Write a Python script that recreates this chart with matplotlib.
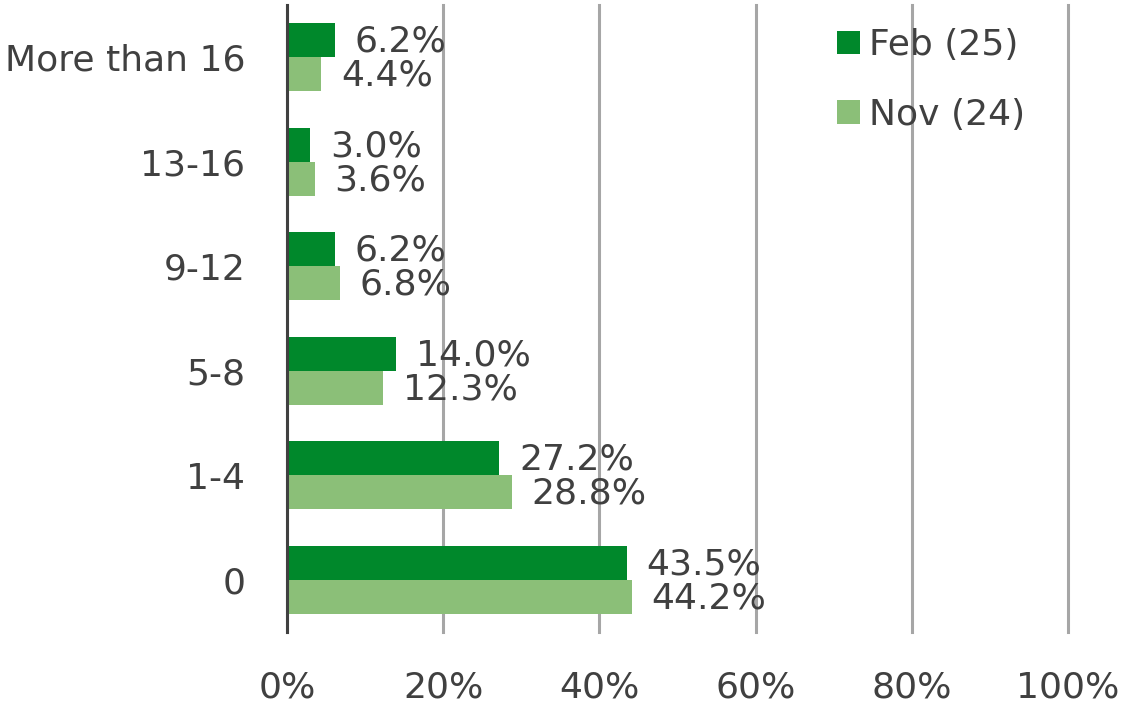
import matplotlib
matplotlib.use("Agg")
import matplotlib.pyplot as plt
import numpy as np

categories = ["0", "1-4", "5-8", "9-12", "13-16", "More than 16"]
feb_values = [43.5, 27.2, 14.0, 6.2, 3.0, 6.2]
nov_values = [44.2, 28.8, 12.3, 6.8, 3.6, 4.4]
series_names = ["Feb (25)", "Nov (24)"]
x_ticks = [0, 20, 40, 60, 80, 100]
x_tick_labels = ["0%", "20%", "40%", "60%", "80%", "100%"]

DARK = "#00882B"
LIGHT = "#8BBF78"
TXT = "#404040"
FS = 26

plt.rcParams['font.family'] = ['DejaVu Sans']

fig = plt.figure(figsize=(11.27, 7.19), dpi=100)
ax = fig.add_axes([287/1127, 87/719, (1068-287)/1127, (714-87)/719])

y = np.arange(len(categories))
h = 0.325
b1 = ax.barh(y + h/2, feb_values, height=h, color=DARK, label=series_names[0], zorder=3)
b2 = ax.barh(y - h/2, nov_values, height=h, color=LIGHT, label=series_names[1], zorder=3)

for bars, vals in ((b1, feb_values), (b2, nov_values)):
    for rect, v in zip(bars, vals):
        ax.annotate(f"{v:.1f}%", xy=(rect.get_width(), rect.get_y() + rect.get_height()/2),
                    xytext=(14, -1), textcoords="offset points", ha="left", va="center",
                    fontsize=FS, color=TXT, zorder=5)

ax.set_xlim(0, 100)
ax.set_ylim(-0.5, len(categories) - 0.5)
ax.set_xticks(x_ticks)
ax.set_xticklabels(x_tick_labels)
ax.set_yticks(y)
ax.set_yticklabels(categories)
ax.tick_params(axis='x', length=0, pad=28, labelsize=FS, labelcolor=TXT)
ax.tick_params(axis='y', length=0, pad=30, labelsize=FS, labelcolor=TXT)

ax.xaxis.grid(True, color="#A6A6A6", linewidth=2.2, zorder=1)
for gl in ax.get_xgridlines():
    gl.set_clip_on(False)
ax.set_axisbelow(True)
for s in ["top", "right", "bottom"]:
    ax.spines[s].set_visible(False)
ax.spines["left"].set_color(TXT)
ax.spines["left"].set_linewidth(2.2)
ax.spines["left"].set_zorder(4)

leg = ax.legend(loc="upper left", bbox_to_anchor=((814-287)/(1068-287), 1.0), frameon=False,
                fontsize=FS, handlelength=0.62, handleheight=0.62, handletextpad=0.25,
                labelspacing=0.98, labelcolor=TXT, borderaxespad=0.25)

fig.savefig("out.png", dpi=100)
